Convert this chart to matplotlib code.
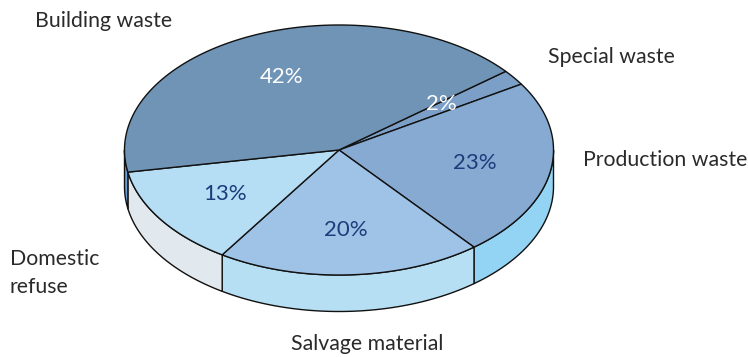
import numpy as np
import matplotlib
matplotlib.use("Agg")
import matplotlib.pyplot as plt
from matplotlib.patches import Polygon
from matplotlib import font_manager

# ---- data (clockwise from the upper-right boundary) ----
categories = ["Special waste", "Production waste", "Salvage material", "Domestic refuse", "Building waste"]
values = [2, 23, 20, 13, 42]
pct_labels = ["2%", "23%", "20%", "13%", "42%"]

# ---- style ----
top_colors = ["#7b9fc6", "#86aad2", "#9fc3e6", "#b5ddf4", "#7094b5"]
side_colors = ["#7ba6d6", "#93d3f3", "#b7dff3", "#e1e8ee", "#6b9fd5"]
pct_colors = ["white", "#1d3c7c", "#1d3c7c", "#1d3c7c", "white"]

avail = {f.name for f in font_manager.fontManager.ttflist}
fam = "Lato" if "Lato" in avail else "DejaVu Sans"
plt.rcParams["font.family"] = [fam, "DejaVu Sans"]
fw = "normal"

fig = plt.figure(figsize=(7.48, 3.57), dpi=100)
ax = fig.add_axes([0, 0, 1, 1])
ax.set_xlim(0, 748)
ax.set_ylim(357, 0)
ax.axis("off")

# pie geometry in pixel coordinates
cx, cy, a, b, depth = 339.0, 150.0, 214.5, 125.0, 36.5
start = 39.0

def pt(t, dy=0.0):
    r = np.radians(t)
    return cx + a * np.cos(r), cy - b * np.sin(r) + dy

vals = np.array(values, dtype=float)
cum = np.concatenate([[0], np.cumsum(vals)]) / vals.sum() * 360.0
theta0 = start - cum[:-1]
theta1 = start - cum[1:]

# side walls (front half only)
for i in range(len(values)):
    lo, hi = theta1[i], theta0[i]
    for f_lo, f_hi in [(-180, 0), (-540, -360), (180, 360)]:
        s_lo, s_hi = max(lo, f_lo), min(hi, f_hi)
        if s_hi - s_lo <= 0:
            continue
        ts = np.linspace(s_lo, s_hi, 120)
        top = [pt(t) for t in ts]
        bot = [pt(t, depth) for t in ts[::-1]]
        ax.add_patch(Polygon(top + bot, closed=True, facecolor=side_colors[i],
                             edgecolor="#111111", linewidth=1.0, joinstyle="round", zorder=1))

# top wedges
for i in range(len(values)):
    ts = np.linspace(theta1[i], theta0[i], 200)
    verts = [(cx, cy)] + [pt(t) for t in ts]
    ax.add_patch(Polygon(verts, closed=True, facecolor=top_colors[i],
                         edgecolor="#111111", linewidth=1.0, joinstyle="round", zorder=2))

# percentage labels
for i in range(len(values)):
    mid = (theta0[i] + theta1[i]) / 2.0
    r = 0.64
    rad = np.radians(mid)
    x = cx + r * a * np.cos(rad)
    y = cy - r * b * np.sin(rad)
    if values[i] < 5:
        x -= 10
    ax.text(x, y, pct_labels[i], color=pct_colors[i], fontsize=16, fontweight=fw,
            ha="center", va="center", zorder=5)

# category labels
tc = "#2a2a2a"
fs = 15.3
ax.text(35, 21, "Building waste", color=tc, fontsize=fs, fontweight=fw, ha="left", va="center")
ax.text(548, 57, "Special waste", color=tc, fontsize=fs, fontweight=fw, ha="left", va="center")
ax.text(583, 160, "Production waste", color=tc, fontsize=fs, fontweight=fw, ha="left", va="center")
ax.text(10, 273, "Domestic\nrefuse", color=tc, fontsize=fs, fontweight=fw, ha="left", va="center", linespacing=1.5)
ax.text(367, 344, "Salvage material", color=tc, fontsize=fs, fontweight=fw, ha="center", va="center")

fig.savefig("out.png", dpi=100, facecolor="white")
